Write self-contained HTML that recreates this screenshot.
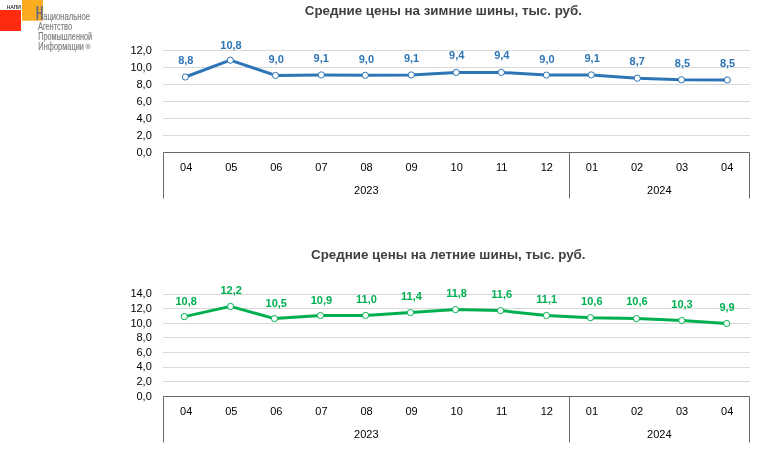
<!DOCTYPE html>
<html><head><meta charset="utf-8"><title>chart</title>
<style>
html,body{margin:0;padding:0;background:#fff;}
svg{display:block;will-change:transform;}
text{font-family:"Liberation Sans",sans-serif;}
.ax{font-size:11px;fill:#000;}
.dl{font-size:11px;font-weight:bold;}
.tt{font-size:13.33px;font-weight:bold;fill:#404040;}
</style></head><body>
<svg width="770" height="459" viewBox="0 0 770 459">
<rect width="770" height="459" fill="#fff"/>

<rect x="0" y="10" width="21" height="21" fill="#ff2b0f"/>
<rect x="22" y="0" width="21" height="20.7" fill="#fcac20"/>
<text x="6.8" y="8.8" font-size="5.2" fill="#222" stroke="#222" stroke-width="0.12" textLength="14.2" lengthAdjust="spacingAndGlyphs">НАПИ</text>
<path d="M36.5 6.1h1.8v6.1h2.6v-6.1h1.8v13.9h-1.8v-6.3h-2.6v6.3h-1.8z" fill="#676b7d"/>
<g font-size="10.3" fill="#7c7d82" stroke="#7c7d82" stroke-width="0.18">
<text x="43.2" y="19.9" textLength="46.8" lengthAdjust="spacingAndGlyphs">ациональное</text>
<text x="38" y="29.8" textLength="34" lengthAdjust="spacingAndGlyphs">Агентство</text>
<text x="38.3" y="40" textLength="53.7" lengthAdjust="spacingAndGlyphs">Промышленной</text>
<text x="38.3" y="50.2" textLength="45.7" lengthAdjust="spacingAndGlyphs">Информации</text>
</g>
<circle cx="88" cy="46.4" r="2.4" fill="none" stroke="#8e8f93" stroke-width="0.6"/>
<text x="88" y="47.7" font-size="3.6" fill="#8e8f93" text-anchor="middle" font-weight="bold">R</text>

<rect x="163.0" y="50" width="587.0" height="1" fill="#d9d9d9"/>
<rect x="163.0" y="67" width="587.0" height="1" fill="#d9d9d9"/>
<rect x="163.0" y="84" width="587.0" height="1" fill="#d9d9d9"/>
<rect x="163.0" y="101" width="587.0" height="1" fill="#d9d9d9"/>
<rect x="163.0" y="118" width="587.0" height="1" fill="#d9d9d9"/>
<rect x="163.0" y="135" width="587.0" height="1" fill="#d9d9d9"/>
<text class="ax" x="151.8" y="155.50" text-anchor="end">0,0</text>
<text class="ax" x="151.8" y="138.50" text-anchor="end">2,0</text>
<text class="ax" x="151.8" y="121.50" text-anchor="end">4,0</text>
<text class="ax" x="151.8" y="104.50" text-anchor="end">6,0</text>
<text class="ax" x="151.8" y="87.50" text-anchor="end">8,0</text>
<text class="ax" x="151.8" y="70.50" text-anchor="end">10,0</text>
<text class="ax" x="151.8" y="53.50" text-anchor="end">12,0</text>
<path d="M163.5 198.5V152.5H749.5V198.5M569.5 152.5V198.5" fill="none" stroke="#6b6767" stroke-width="1"/>
<text class="ax" x="186.24" y="170.50" text-anchor="middle">04</text>
<text class="ax" x="231.32" y="170.50" text-anchor="middle">05</text>
<text class="ax" x="276.39" y="170.50" text-anchor="middle">06</text>
<text class="ax" x="321.47" y="170.50" text-anchor="middle">07</text>
<text class="ax" x="366.55" y="170.50" text-anchor="middle">08</text>
<text class="ax" x="411.62" y="170.50" text-anchor="middle">09</text>
<text class="ax" x="456.70" y="170.50" text-anchor="middle">10</text>
<text class="ax" x="501.78" y="170.50" text-anchor="middle">11</text>
<text class="ax" x="546.85" y="170.50" text-anchor="middle">12</text>
<text class="ax" x="591.93" y="170.50" text-anchor="middle">01</text>
<text class="ax" x="637.01" y="170.50" text-anchor="middle">02</text>
<text class="ax" x="682.08" y="170.50" text-anchor="middle">03</text>
<text class="ax" x="727.16" y="170.50" text-anchor="middle">04</text>
<text class="ax" x="366.35" y="193.50" text-anchor="middle">2023</text>
<text class="ax" x="659.35" y="193.50" text-anchor="middle">2024</text>
<polyline fill="none" stroke="#2e75b6" stroke-width="3" stroke-linejoin="round" stroke-linecap="round" points="185.30,77.00 230.30,60.20 275.45,75.45 321.30,74.90 365.30,75.30 411.30,74.90 456.20,72.40 501.30,72.40 546.40,75.10 591.30,74.90 637.30,78.20 681.45,79.80 727.30,80.00"/>
<circle cx="185.30" cy="77.00" r="3.1" fill="#fff" stroke="#2e75b6" stroke-width="1"/>
<text class="dl" fill="#2e75b6" x="185.84" y="63.50" text-anchor="middle">8,8</text>
<circle cx="230.30" cy="60.20" r="3.1" fill="#fff" stroke="#2e75b6" stroke-width="1"/>
<text class="dl" fill="#2e75b6" x="230.98" y="49.30" text-anchor="middle">10,8</text>
<circle cx="275.45" cy="75.45" r="3.1" fill="#fff" stroke="#2e75b6" stroke-width="1"/>
<text class="dl" fill="#2e75b6" x="276.13" y="62.70" text-anchor="middle">9,0</text>
<circle cx="321.30" cy="74.90" r="3.1" fill="#fff" stroke="#2e75b6" stroke-width="1"/>
<text class="dl" fill="#2e75b6" x="321.27" y="61.80" text-anchor="middle">9,1</text>
<circle cx="365.30" cy="75.30" r="3.1" fill="#fff" stroke="#2e75b6" stroke-width="1"/>
<text class="dl" fill="#2e75b6" x="366.41" y="62.70" text-anchor="middle">9,0</text>
<circle cx="411.30" cy="74.90" r="3.1" fill="#fff" stroke="#2e75b6" stroke-width="1"/>
<text class="dl" fill="#2e75b6" x="411.56" y="61.50" text-anchor="middle">9,1</text>
<circle cx="456.20" cy="72.40" r="3.1" fill="#fff" stroke="#2e75b6" stroke-width="1"/>
<text class="dl" fill="#2e75b6" x="456.70" y="58.70" text-anchor="middle">9,4</text>
<circle cx="501.30" cy="72.40" r="3.1" fill="#fff" stroke="#2e75b6" stroke-width="1"/>
<text class="dl" fill="#2e75b6" x="501.84" y="58.70" text-anchor="middle">9,4</text>
<circle cx="546.40" cy="75.10" r="3.1" fill="#fff" stroke="#2e75b6" stroke-width="1"/>
<text class="dl" fill="#2e75b6" x="546.99" y="62.70" text-anchor="middle">9,0</text>
<circle cx="591.30" cy="74.90" r="3.1" fill="#fff" stroke="#2e75b6" stroke-width="1"/>
<text class="dl" fill="#2e75b6" x="592.13" y="61.80" text-anchor="middle">9,1</text>
<circle cx="637.30" cy="78.20" r="3.1" fill="#fff" stroke="#2e75b6" stroke-width="1"/>
<text class="dl" fill="#2e75b6" x="637.27" y="64.50" text-anchor="middle">8,7</text>
<circle cx="681.45" cy="79.80" r="3.1" fill="#fff" stroke="#2e75b6" stroke-width="1"/>
<text class="dl" fill="#2e75b6" x="682.42" y="66.70" text-anchor="middle">8,5</text>
<circle cx="727.30" cy="80.00" r="3.1" fill="#fff" stroke="#2e75b6" stroke-width="1"/>
<text class="dl" fill="#2e75b6" x="727.56" y="66.70" text-anchor="middle">8,5</text>
<text class="tt" x="443.4" y="14.6" text-anchor="middle">Средние цены на зимние шины, тыс. руб.</text>
<rect x="163.0" y="294" width="587.0" height="1" fill="#d9d9d9"/>
<rect x="163.0" y="308" width="587.0" height="1" fill="#d9d9d9"/>
<rect x="163.0" y="323" width="587.0" height="1" fill="#d9d9d9"/>
<rect x="163.0" y="337" width="587.0" height="1" fill="#d9d9d9"/>
<rect x="163.0" y="352" width="587.0" height="1" fill="#d9d9d9"/>
<rect x="163.0" y="367" width="587.0" height="1" fill="#d9d9d9"/>
<rect x="163.0" y="381" width="587.0" height="1" fill="#d9d9d9"/>
<text class="ax" x="151.8" y="399.50" text-anchor="end">0,0</text>
<text class="ax" x="151.8" y="384.90" text-anchor="end">2,0</text>
<text class="ax" x="151.8" y="370.30" text-anchor="end">4,0</text>
<text class="ax" x="151.8" y="355.70" text-anchor="end">6,0</text>
<text class="ax" x="151.8" y="341.10" text-anchor="end">8,0</text>
<text class="ax" x="151.8" y="326.50" text-anchor="end">10,0</text>
<text class="ax" x="151.8" y="311.90" text-anchor="end">12,0</text>
<text class="ax" x="151.8" y="297.30" text-anchor="end">14,0</text>
<path d="M163.5 442.5V396.5H749.5V442.5M569.5 396.5V442.5" fill="none" stroke="#6b6767" stroke-width="1"/>
<text class="ax" x="186.24" y="414.50" text-anchor="middle">04</text>
<text class="ax" x="231.32" y="414.50" text-anchor="middle">05</text>
<text class="ax" x="276.39" y="414.50" text-anchor="middle">06</text>
<text class="ax" x="321.47" y="414.50" text-anchor="middle">07</text>
<text class="ax" x="366.55" y="414.50" text-anchor="middle">08</text>
<text class="ax" x="411.62" y="414.50" text-anchor="middle">09</text>
<text class="ax" x="456.70" y="414.50" text-anchor="middle">10</text>
<text class="ax" x="501.78" y="414.50" text-anchor="middle">11</text>
<text class="ax" x="546.85" y="414.50" text-anchor="middle">12</text>
<text class="ax" x="591.93" y="414.50" text-anchor="middle">01</text>
<text class="ax" x="637.01" y="414.50" text-anchor="middle">02</text>
<text class="ax" x="682.08" y="414.50" text-anchor="middle">03</text>
<text class="ax" x="727.16" y="414.50" text-anchor="middle">04</text>
<text class="ax" x="366.35" y="437.50" text-anchor="middle">2023</text>
<text class="ax" x="659.35" y="437.50" text-anchor="middle">2024</text>
<polyline fill="none" stroke="#00b050" stroke-width="3" stroke-linejoin="round" stroke-linecap="round" points="184.30,316.60 230.50,306.40 274.50,318.60 320.50,315.50 365.60,315.40 410.50,312.60 455.50,309.60 500.50,310.60 546.50,315.50 590.50,317.70 636.45,318.60 681.80,320.45 726.70,323.50"/>
<circle cx="184.30" cy="316.60" r="3.1" fill="#fff" stroke="#00b050" stroke-width="1"/>
<text class="dl" fill="#00b050" x="186.14" y="304.60" text-anchor="middle">10,8</text>
<circle cx="230.50" cy="306.40" r="3.1" fill="#fff" stroke="#00b050" stroke-width="1"/>
<text class="dl" fill="#00b050" x="231.22" y="294.10" text-anchor="middle">12,2</text>
<circle cx="274.50" cy="318.60" r="3.1" fill="#fff" stroke="#00b050" stroke-width="1"/>
<text class="dl" fill="#00b050" x="276.29" y="306.50" text-anchor="middle">10,5</text>
<circle cx="320.50" cy="315.50" r="3.1" fill="#fff" stroke="#00b050" stroke-width="1"/>
<text class="dl" fill="#00b050" x="321.37" y="303.70" text-anchor="middle">10,9</text>
<circle cx="365.60" cy="315.40" r="3.1" fill="#fff" stroke="#00b050" stroke-width="1"/>
<text class="dl" fill="#00b050" x="366.45" y="302.80" text-anchor="middle">11,0</text>
<circle cx="410.50" cy="312.60" r="3.1" fill="#fff" stroke="#00b050" stroke-width="1"/>
<text class="dl" fill="#00b050" x="411.52" y="299.50" text-anchor="middle">11,4</text>
<circle cx="455.50" cy="309.60" r="3.1" fill="#fff" stroke="#00b050" stroke-width="1"/>
<text class="dl" fill="#00b050" x="456.60" y="296.80" text-anchor="middle">11,8</text>
<circle cx="500.50" cy="310.60" r="3.1" fill="#fff" stroke="#00b050" stroke-width="1"/>
<text class="dl" fill="#00b050" x="501.68" y="297.70" text-anchor="middle">11,6</text>
<circle cx="546.50" cy="315.50" r="3.1" fill="#fff" stroke="#00b050" stroke-width="1"/>
<text class="dl" fill="#00b050" x="546.75" y="302.80" text-anchor="middle">11,1</text>
<circle cx="590.50" cy="317.70" r="3.1" fill="#fff" stroke="#00b050" stroke-width="1"/>
<text class="dl" fill="#00b050" x="591.83" y="305.00" text-anchor="middle">10,6</text>
<circle cx="636.45" cy="318.60" r="3.1" fill="#fff" stroke="#00b050" stroke-width="1"/>
<text class="dl" fill="#00b050" x="636.91" y="305.40" text-anchor="middle">10,6</text>
<circle cx="681.80" cy="320.45" r="3.1" fill="#fff" stroke="#00b050" stroke-width="1"/>
<text class="dl" fill="#00b050" x="681.98" y="307.70" text-anchor="middle">10,3</text>
<circle cx="726.70" cy="323.50" r="3.1" fill="#fff" stroke="#00b050" stroke-width="1"/>
<text class="dl" fill="#00b050" x="727.06" y="310.50" text-anchor="middle">9,9</text>
<text class="tt" x="448.3" y="258.5" text-anchor="middle">Средние цены на летние шины, тыс. руб.</text>
</svg>
</body></html>
